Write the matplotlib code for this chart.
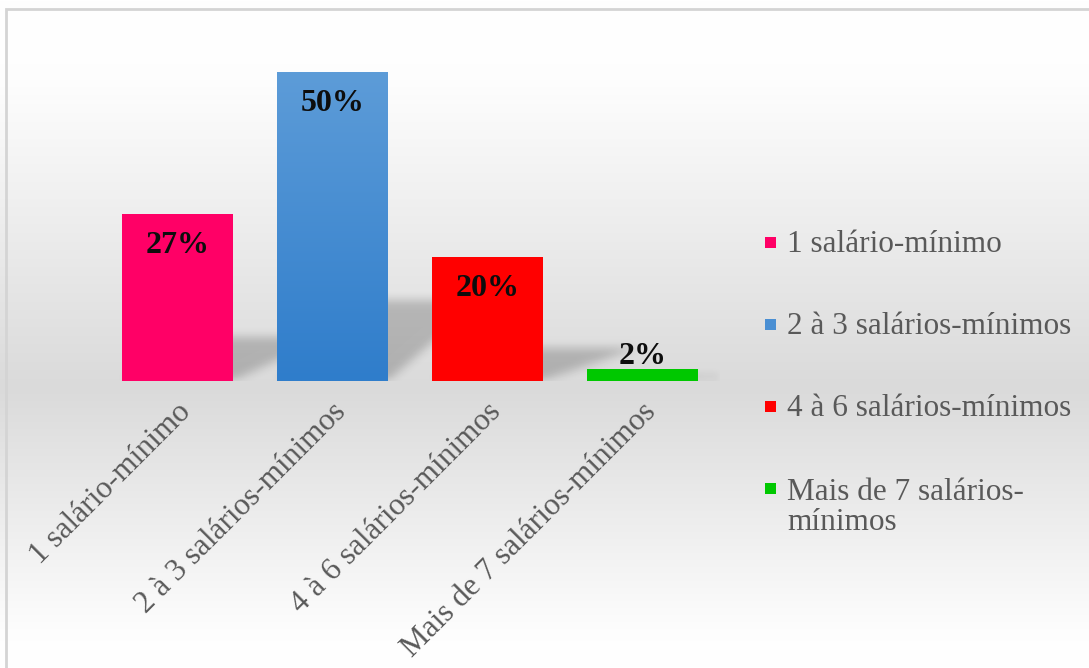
import textwrap
import matplotlib
matplotlib.use("Agg")
import matplotlib.pyplot as plt
import numpy as np
from matplotlib.patches import Rectangle
from matplotlib import transforms

categories = ["1 salário-mínimo", "2 à 3 salários-mínimos",
              "4 à 6 salários-mínimos", "Mais de 7 salários-mínimos"]
values = [27, 50, 20, 2]
colors = ["#ff0066", "#4a8fd3", "#ff0000", "#00c800"]

plt.rcParams['font.family'] = ['Liberation Serif', 'DejaVu Serif']

W, H = 1089, 668
fig = plt.figure(figsize=(W / 100, H / 100), dpi=100)

# background gradient: white on top, grey around the baseline, white at the bottom
bg = fig.add_axes([0, 0, 1, 1], zorder=-10)
yy = np.linspace(0, 1, 400)  # 0 = top
stops_y = [0.0, 0.12, 0.58, 0.95, 1.0]
stops_v = [1.0, 0.995, 0.855, 0.995, 1.0]
shade = np.interp(yy, stops_y, stops_v)
grad = np.repeat(shade[:, None], 2, axis=1)
bg.imshow(np.dstack([grad, grad, grad]), aspect='auto', extent=(0, 1, 0, 1))
bg.add_patch(Rectangle((6 / W, -0.05), 1.2, 1 - 9 / H + 0.05, fill=False,
                       edgecolor="#d4d4d4", linewidth=2, transform=bg.transAxes))
bg.set_xlim(0, 1)
bg.set_ylim(0, 1)
bg.axis('off')

ax = fig.add_axes([100 / W, (H - 381) / H, 620 / W, 309 / H])
ax.patch.set_alpha(0)
x = np.arange(len(categories))
width = 0.716

# soft shadows behind bars
nx, ny = 620, 309
gx = np.linspace(-0.5, 3.5, nx)
gy = np.linspace(0, 50, ny)
GX, GY = np.meshgrid(gx, gy)
mask = np.zeros((ny, nx))
for xi, v in zip(x, values):
    hs = 0.26 * v
    s = 0.6
    t = GY / hs
    inside = (t <= 1) & (GX >= xi - width / 2 + s * t) & (GX <= xi + width / 2 + s * t)
    mask[inside] = 1.0
k = np.ones(9) / 9
for _ in range(3):
    mask = np.apply_along_axis(lambda r: np.convolve(r, k, mode='same'), 1, mask)
    mask = np.apply_along_axis(lambda c: np.convolve(c, k, mode='same'), 0, mask)
rgba = np.zeros((ny, nx, 4))
rgba[..., 3] = mask * 0.2
ax.imshow(rgba, extent=(-0.5, 3.5, 0, 50), origin='lower', aspect='auto', zorder=1)

bars = ax.bar(x, values, width=width, color=colors, zorder=2)

# blue bar gets a light-to-dark vertical gradient
b = bars[1]
blue_top = np.array([0x5d, 0x9c, 0xd8]) / 255
blue_bot = np.array([0x2f, 0x7d, 0xcb]) / 255
tt = np.linspace(0, 1, 200)[:, None]
bgrad = blue_top * (1 - tt) + blue_bot * tt
im = ax.imshow(bgrad[:, None, :], aspect='auto', zorder=3,
               extent=(b.get_x(), b.get_x() + b.get_width(), 0, b.get_height()))
im.set_clip_path(b)
ax.set_ylim(0, 50)
ax.set_xlim(-0.5, 3.5)

# value labels
for xi, v in zip(x, values):
    if v > 5:
        off = transforms.ScaledTranslation(0, -12 / 72, fig.dpi_scale_trans)
        ax.text(xi, v, f"{v}%", ha='center', va='top', fontsize=23,
                fontweight='bold', color='#0d0d0d', zorder=5,
                transform=ax.transData + off)
    else:
        off = transforms.ScaledTranslation(0, 3 / 72, fig.dpi_scale_trans)
        ax.text(xi, v, f"{v}%", ha='center', va='baseline', fontsize=23,
                fontweight='bold', color='#0d0d0d', zorder=5,
                transform=ax.transData + off)

# rotated category labels
lab_off = transforms.ScaledTranslation(9 / 100, -27 / 100, fig.dpi_scale_trans)
for xi, c in zip(x, categories):
    ax.text(xi, 0, c, rotation=45, ha='right', va='center', rotation_mode='anchor',
            fontsize=22.5, color='#595959', transform=ax.transData + lab_off)

ax.set_xticks([])
ax.set_yticks([])
for sp in ax.spines.values():
    sp.set_visible(False)

# legend (square sits on the first line of a wrapped label)
for i, (c, col) in enumerate(zip(categories, colors)):
    yc = 242 + 82 * i
    txt = textwrap.fill(c, 22)
    nlines = txt.count("\n") + 1
    fig.add_artist(Rectangle((765 / W, 1 - (yc + 5.5) / H), 11 / W, 11 / H,
                             facecolor=col, edgecolor='none', transform=fig.transFigure))
    fig.text(787 / W, 1 - (yc + 10 + 32 * (nlines - 1)) / H, txt, ha='left',
             va='baseline', fontsize=22.5, color='#595959', linespacing=1.05)

fig.savefig("out.png", dpi=100)
